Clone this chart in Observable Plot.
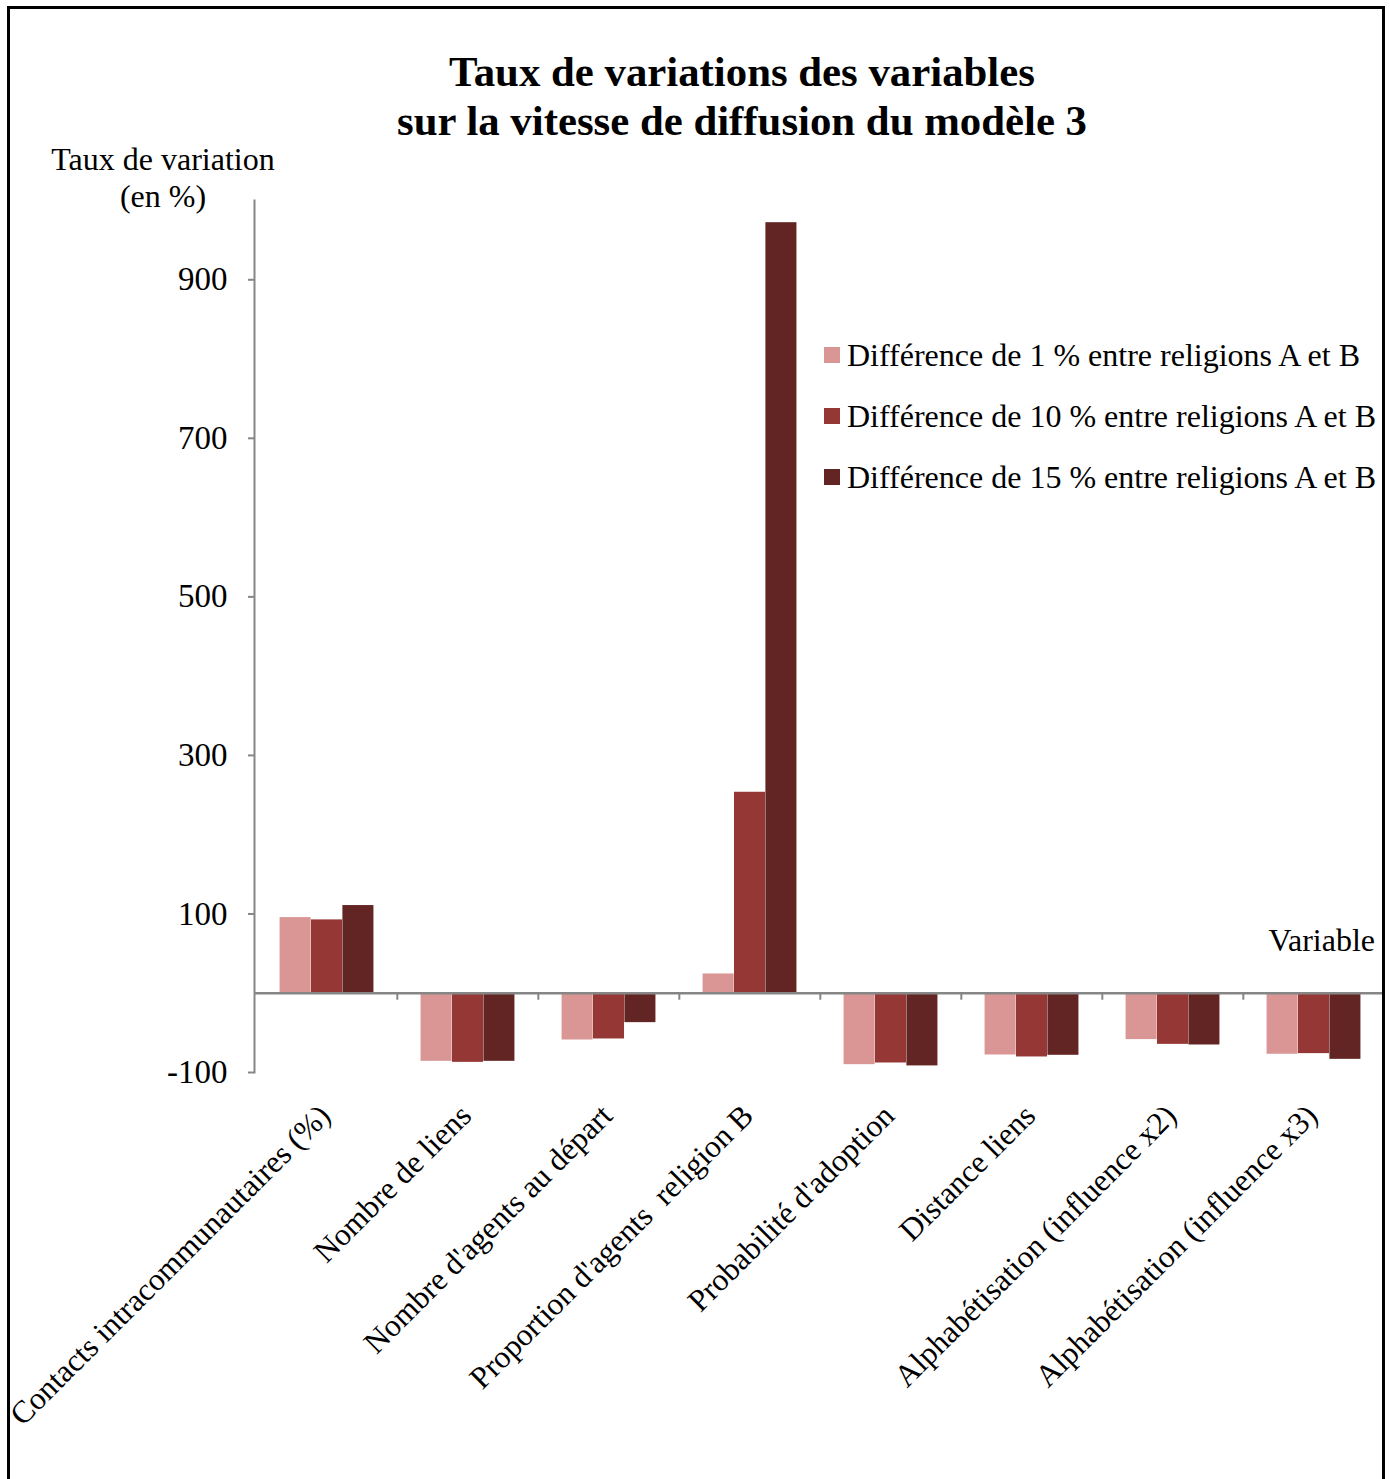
<!DOCTYPE html>
<html><head><meta charset="utf-8">
<script src="https://cdn.jsdelivr.net/npm/d3@7"></script>
<script src="https://cdn.jsdelivr.net/npm/@observablehq/plot@0.6"></script>
<style>
body{margin:0;background:#fff;font-family:"Liberation Serif","Times New Roman",serif;}
#wrap{position:relative;width:1390px;height:1479px;overflow:hidden;background:#fff;}
#frame{position:absolute;left:7px;top:6px;width:1372px;height:1520px;border:3px solid #000;border-bottom:none;}
#chart{position:absolute;left:0;top:0;}
.t{position:absolute;white-space:pre;color:#000;line-height:1;}
#title{left:0;width:1484px;top:47px;text-align:center;font-weight:bold;font-size:42.8px;line-height:49px;}
#ylab{left:13px;width:300px;top:141px;text-align:center;font-size:32px;line-height:37px;}
#xlab{right:15px;top:924px;font-size:32px;}
#legend{left:824px;top:324px;}
.li{display:flex;align-items:center;height:61px;font-size:32px;}
.sw{width:16px;height:16px;margin-right:7px;}
</style></head><body>
<div id="wrap">
  <div id="chart"></div>
  <div id="frame"></div>
  <div class="t" id="title"></div>
  <div class="t" id="ylab"></div>
  <div class="t" id="xlab"></div>
  <div class="t" id="legend"></div>
</div>
<script>
const titleLines = ["Taux de variations des variables", "sur la vitesse de diffusion du modèle 3"];
const yLabelLines = ["Taux de variation", "(en %)"];
const xLabel = "Variable";
const categories = [
  "Contacts intracommunautaires (%)",
  "Nombre de liens",
  "Nombre d'agents au départ",
  "Proportion d'agents\u00A0 religion B",
  "Probabilité d'adoption",
  "Distance liens",
  "Alphabétisation (influence x2)",
  "Alphabétisation (influence x3)"
];
const seriesNames = [
  "Différence de 1\u00A0% entre religions A et B",
  "Différence de 10\u00A0% entre religions A et B",
  "Différence de 15\u00A0% entre religions A et B"
];
const values1 = [95.4, -85.9, -59.0, 24.3, -90.1, -77.9, -58.5, -77.0];
const values10 = [92.5, -87.2, -57.7, 253.5, -88.0, -80.4, -64.5, -76.2];
const values15 = [110.6, -85.9, -37.1, 972.0, -91.7, -78.3, -65.3, -83.4];
const colors = ["#D99694", "#953735", "#632523"];
const yTicks = [-100, 100, 300, 500, 700, 900];
const yDomain = [-100, 1000];

const allValues = [values1, values10, values15];

// layout
const W = 1390, H = 1479;
const mL = 254, mR = 5, mT = 200, mB = 407;
const step = (W - mL - mR) / categories.length;
const pxPerUnit = (H - mT - mB) / (yDomain[1] - yDomain[0]);
const axisColor = "#868686";

const barMarks = allValues.map((vals, i) => {
  const data = categories.map((c, j) => ({cat: c, v: vals[j], s: seriesNames[i]}));
  const left = step * (1/6 + i * 2/9);
  const right = step - step * (1/6 + (i + 1) * 2/9);
  return Plot.barY(data, {x: "cat", y: "v", fill: colors[i], insetLeft: left, insetRight: right});
});

const chart = Plot.plot({
  width: W, height: H,
  marginLeft: mL, marginRight: mR, marginTop: mT, marginBottom: mB,
  style: {fontFamily: "'Liberation Serif','Times New Roman',serif", fontSize: "32px", color: "#000", background: "transparent"},
  x: {domain: categories, padding: 0, label: null},
  y: {domain: yDomain, label: null},
  marks: [
    ...barMarks,
    Plot.ruleY([0], {stroke: axisColor, strokeWidth: 2.5}),
    Plot.ruleX(categories.slice(1), {x: d => d, y1: 0, y2: -7 / pxPerUnit, dx: -step / 2, stroke: axisColor, strokeWidth: 2}),
    Plot.frame({anchor: "left", stroke: axisColor, strokeWidth: 2}),
    Plot.axisY({ticks: yTicks, tickFormat: d => String(d), tickSize: 6, tickPadding: 21, stroke: axisColor, strokeWidth: 2, fill: "#000", fontSize: 33, label: null}),
    Plot.axisX({anchor: "bottom", tickSize: 0, tickPadding: 38, dx: -2, tickRotate: -45, fill: "#000", fontSize: 31.4, label: null})
  ]
});
document.getElementById("chart").appendChild(chart);

document.getElementById("title").textContent = titleLines.join("\n");
document.getElementById("ylab").textContent = yLabelLines.join("\n");
document.getElementById("xlab").textContent = xLabel;
const leg = document.getElementById("legend");
seriesNames.forEach((n, i) => {
  const row = document.createElement("div");
  row.className = "li";
  const sw = document.createElement("div");
  sw.className = "sw";
  sw.style.background = colors[i];
  const tx = document.createElement("span");
  tx.textContent = n;
  row.appendChild(sw); row.appendChild(tx);
  leg.appendChild(row);
});
</script>
</body></html>
